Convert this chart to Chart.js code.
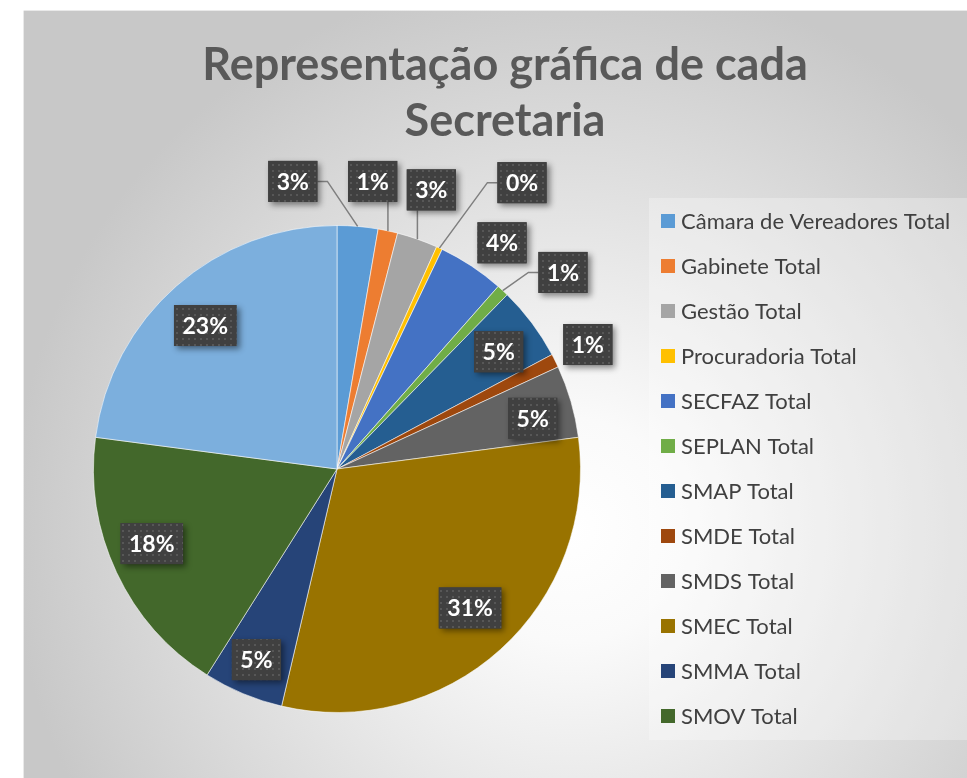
<!DOCTYPE html>
<html>
<head>
<meta charset="utf-8">
<script src="https://cdn.jsdelivr.net/npm/chart.js@4.4.1/dist/chart.umd.min.js"></script>
<style>
html,body{margin:0;padding:0;background:#fff;}
canvas{display:block;}
</style>
</head>
<body>
<canvas id="c" width="967" height="778"></canvas>
<script>
// ---- data ----
const categories = [
  "Câmara de Vereadores Total","Gabinete Total","Gestão Total","Procuradoria Total",
  "SECFAZ Total","SEPLAN Total","SMAP Total","SMDE Total","SMDS Total",
  "SMEC Total","SMMA Total","SMOV Total","SMS Total"
];
const values = [2.7, 1.3, 2.7, 0.4, 4.4, 0.8, 4.9, 0.9, 4.8, 30.7, 5.3, 18.1, 22.9];
const legendShown = 12; // entries visible in the legend
const titleLines = ["Representação gráfica de cada", "Secretaria"];

// ---- styles ----
const colors = ["#5B9BD5","#ED7D31","#A5A5A5","#FFC000","#4472C4","#70AD47",
                "#255E91","#9E480E","#636363","#997300","#264478","#43682B","#7CAFDD"];
// label placement relative to each slice: radius factor and angular nudge (deg)
const labelRadius = [1.195, 1.19, 1.21, 1.40, 1.15, 1.23, 0.82, 1.15, 0.83, 0.79, 0.85, 0.82, 0.80];
const labelNudge  = [-13.6, -5.0, -0.6, 8.0, 2.6, 6.1, 0.9, 0.0, 1.6, -1.6, 0.2, 3.2, -1.3];

const total = values.reduce((a,b)=>a+b,0);

function makePattern(ctx){
  const c = document.createElement('canvas');
  c.width = 6; c.height = 6;
  const p = c.getContext('2d');
  p.fillStyle = '#404040'; p.fillRect(0,0,6,6);
  p.fillStyle = '#575757'; p.fillRect(2,2,2,2);
  return ctx.createPattern(c,'repeat');
}

const bgPlugin = {
  id:'bg',
  beforeDraw(chart){
    const ctx = chart.ctx;
    ctx.save();
    ctx.fillStyle = '#ffffff';
    ctx.fillRect(0,0,967,778);
    const g = ctx.createRadialGradient(570,530,0,570,530,560);
    g.addColorStop(0,'#ffffff');
    g.addColorStop(0.2,'#fafafa');
    g.addColorStop(1,'#c8c8c8');
    ctx.fillStyle = g;
    ctx.fillRect(23,10,944,768);
    ctx.fillStyle = 'rgba(255,255,255,0.6)';
    ctx.fillRect(23,10,944,1);
    ctx.fillRect(23,10,1,768);
    // legend box
    ctx.fillStyle = 'rgba(255,255,255,0.28)';
    ctx.fillRect(649,198,318,542);
    ctx.restore();
  },
  afterDraw(chart){
    const ctx = chart.ctx;
    ctx.save();
    // title
    ctx.fillStyle = '#595959';
    ctx.font = 'bold 45px Lato';
    ctx.textAlign = 'center';
    ctx.textBaseline = 'alphabetic';
    ctx.fillText(titleLines[0], 505, 80);
    ctx.fillText(titleLines[1], 505, 136);
    // legend
    ctx.textAlign = 'left';
    ctx.textBaseline = 'middle';
    ctx.font = '22px Lato';
    for (let i=0;i<legendShown;i++){
      const y = 221 + i*45;
      ctx.fillStyle = colors[i];
      ctx.fillRect(661, y-7, 14, 14);
      ctx.fillStyle = '#404040';
      ctx.fillText(categories[i], 681, y+1);
    }
    ctx.restore();
  }
};

const labelPlugin = {
  id:'pieLabels',
  afterDatasetsDraw(chart){
    const ctx = chart.ctx;
    const meta = chart.getDatasetMeta(0);
    const pat = makePattern(ctx);
    ctx.save();
    ctx.font = 'bold 23px Lato';
    const boxes = [];
    meta.data.forEach((arc,i)=>{
      const p = arc.getProps(['x','y','startAngle','endAngle','outerRadius'], true);
      const mid = (p.startAngle + p.endAngle)/2;
      const a = mid + labelNudge[i]*Math.PI/180;
      const R = p.outerRadius;
      const cx = p.x + Math.cos(a)*R*labelRadius[i];
      const cy = p.y + Math.sin(a)*R*labelRadius[i];
      const txt = Math.round(values[i]/total*100) + '%';
      const w = ctx.measureText(txt).width + 17;
      const h = 41;
      const box = {x0:cx-w/2, x1:cx+w/2, y0:cy-h/2, y1:cy+h/2, cx, cy, txt};
      const px = p.x + Math.cos(mid)*R, py = p.y + Math.sin(mid)*R;
      const nx = Math.max(box.x0, Math.min(px, box.x1));
      const ny = Math.max(box.y0, Math.min(py, box.y1));
      const d = Math.hypot(px-nx, py-ny);
      box.leader = null;
      if (labelRadius[i] > 1 && d > 14){
        if (px > box.x0+4 && px < box.x1-4){
          box.leader = [[px,py],[px, py>box.y1?box.y1:box.y0]];
        } else if (box.x1 < px){
          box.leader = [[px,py],[box.x1+10,cy],[box.x1,cy]];
        } else {
          box.leader = [[px,py],[box.x0-10,cy],[box.x0,cy]];
        }
      }
      boxes.push(box);
    });
    // leader lines
    ctx.strokeStyle = '#7f7f7f';
    ctx.lineWidth = 1.5;
    boxes.forEach(b=>{
      if(!b.leader) return;
      ctx.beginPath();
      ctx.moveTo(b.leader[0][0], b.leader[0][1]);
      for(let k=1;k<b.leader.length;k++) ctx.lineTo(b.leader[k][0], b.leader[k][1]);
      ctx.stroke();
    });
    // boxes
    boxes.forEach(b=>{
      ctx.save();
      ctx.shadowColor = 'rgba(0,0,0,0.45)';
      ctx.shadowBlur = 6;
      ctx.shadowOffsetX = 3;
      ctx.shadowOffsetY = 3;
      ctx.fillStyle = '#404040';
      ctx.fillRect(b.x0, b.y0, b.x1-b.x0, b.y1-b.y0);
      ctx.restore();
      ctx.fillStyle = pat;
      ctx.fillRect(b.x0, b.y0, b.x1-b.x0, b.y1-b.y0);
      ctx.fillStyle = '#ffffff';
      ctx.textAlign = 'center';
      ctx.textBaseline = 'middle';
      ctx.fillText(b.txt, b.cx, b.cy+1);
    });
    ctx.restore();
  }
};

new Chart(document.getElementById('c'), {
  type:'pie',
  data:{
    labels: categories,
    datasets:[{
      data: values,
      backgroundColor: colors,
      borderColor: 'rgba(255,255,255,0.55)',
      borderWidth: 1
    }]
  },
  options:{
    responsive:false,
    devicePixelRatio:1,
    animation:false,
    layout:{padding:{left:93, right:386, top:225, bottom:65}},
    plugins:{legend:{display:false}, tooltip:{enabled:false}, title:{display:false}}
  },
  plugins:[bgPlugin, labelPlugin]
});
</script>
</body>
</html>
